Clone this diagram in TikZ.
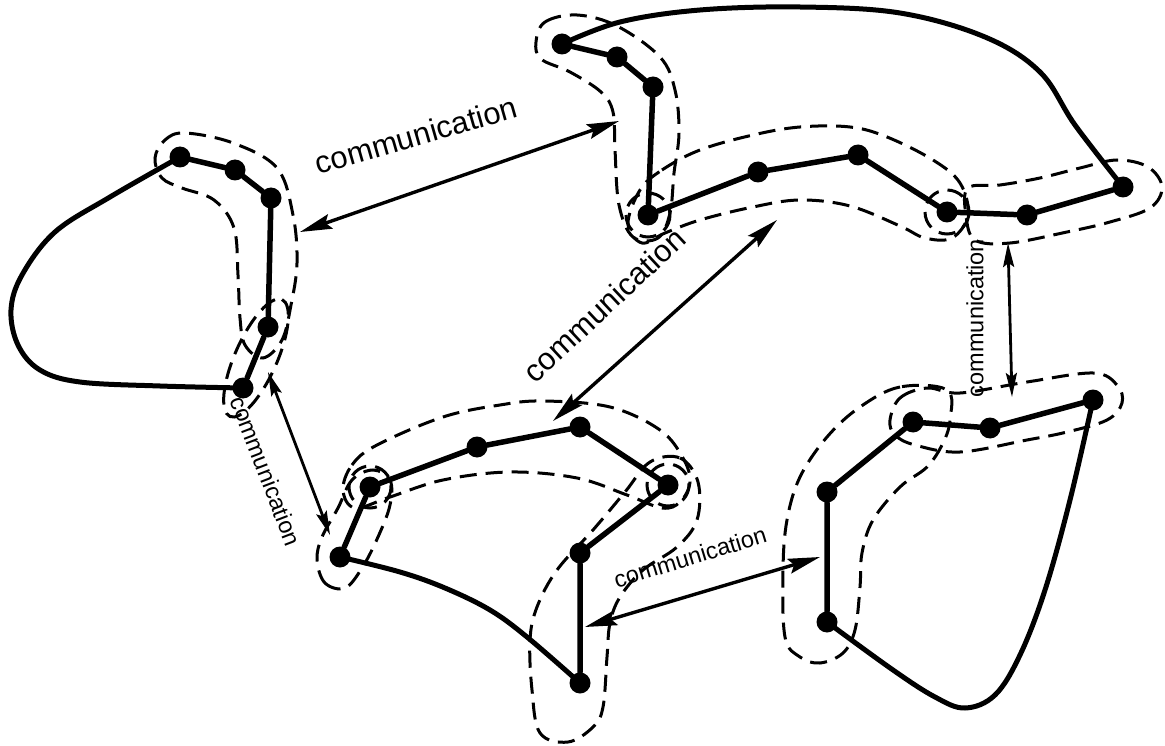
\documentclass[tikz,border=0pt]{standalone}
\usepackage{fontspec}
\setmainfont{Liberation Sans}
\usetikzlibrary{arrows.meta}
\begin{document}
\begin{tikzpicture}[x=1pt,y=-1pt,
  dot/.style={circle,fill=black,inner sep=0pt,minimum size=21pt},
  chainline/.style={line width=5.5pt,line join=round,line cap=round},
  outline/.style={line width=5pt,line cap=round,line join=round},
  zone/.style={line width=3pt,dash pattern=on 17pt off 9pt},
  comm/.style={line width=3.4pt,{Stealth[length=32pt,width=15pt,inset=5pt]}-{Stealth[length=32pt,width=15pt,inset=5pt]}},
  commsmall/.style={line width=2.8pt,{Stealth[length=24pt,width=11pt,inset=4pt]}-{Stealth[length=24pt,width=11pt,inset=4pt]}},
  lblbig/.style={inner sep=0pt,font=\fontsize{31}{31}\selectfont},
  lblsmall/.style={inner sep=0pt,font=\fontsize{23.5}{23.5}\selectfont}
]
\useasboundingbox (0,0) rectangle (1165,746);
\fill[white] (0,0) rectangle (1165,746);

% ---------- dots ----------
\node[dot] (A1) at (180,157) {};
\node[dot] (A2) at (235,170) {};
\node[dot] (A3) at (271,198) {};
\node[dot] (A4) at (268,327) {};
\node[dot] (A5) at (243,388) {};

\node[dot] (B1) at (562,44) {};
\node[dot] (B2) at (617,57) {};
\node[dot] (B3) at (653,87) {};
\node[dot] (B4) at (648,215) {};
\node[dot] (B5) at (758,172) {};
\node[dot] (B6) at (858,155) {};
\node[dot] (B7) at (947,212) {};
\node[dot] (B8) at (1027,215) {};
\node[dot] (B9) at (1123,187) {};

\node[dot] (C1) at (340,557) {};
\node[dot] (C2) at (370,487) {};
\node[dot] (C3) at (477,447) {};
\node[dot] (C4) at (580,427) {};
\node[dot] (C5) at (668,485) {};
\node[dot] (C6) at (580,553) {};
\node[dot] (C7) at (580,683) {};

\node[dot] (D1) at (913,422) {};
\node[dot] (D2) at (990,428) {};
\node[dot] (D3) at (1093,400) {};
\node[dot] (D4) at (827,492) {};
\node[dot] (D5) at (827,622) {};

% ---------- chains ----------
\draw[chainline] (A1) -- (A2) -- (A3) -- (A4) -- (A5);
\draw[chainline] (B1) -- (B2) -- (B3) -- (B4) -- (B5) -- (B6) -- (B7) -- (B8) -- (B9);
\draw[chainline] (C1) -- (C2) -- (C3) -- (C4) -- (C5) -- (C6) -- (C7);
\draw[chainline] (D5) -- (D4) -- (D1) -- (D2) -- (D3);

% ---------- closing curves ----------
\draw[outline] plot[smooth,tension=0.6] coordinates {(A1.center) (110,197) (55,232) (22,275) (11,310) (18,345) (40,370) (80,382) (160,386) (A5.center)};
\draw[outline] plot[smooth,tension=0.6] coordinates {(B1.center) (620,22) (700,10) (800,7) (900,13) (985,37) (1040,72) (1075,125) (B9.center)};
\draw[outline] plot[smooth,tension=0.6] coordinates {(C1.center) (400,572) (445,588) (490,610) (527,637) (C7.center)};
\draw[outline] plot[smooth,tension=0.6] coordinates {(D5.center) (893,670) (935,697) (965,708) (995,695) (1020,655) (1045,590) (1070,500) (D3.center)};

% ---------- dashed zones ----------
% left shape
\draw[zone] plot[smooth cycle,tension=0.6] coordinates {(155,158) (165,140) (185,133) (233,143) (277,168) (293,215) (297,263) (291,305) (282,340) (263,358) (245,345) (240,318) (238,275) (234,228) (214,200) (182,188) (162,178)};
\draw[zone,rotate around={66:(256,358)}] (256,358) ellipse [x radius=64, y radius=21];
% top shape
\draw[zone] plot[smooth cycle,tension=0.6] coordinates {(536,42) (545,22) (577,15) (617,26) (660,57) (675,90) (679,133) (674,173) (670,213) (658,238) (633,237) (619,205) (615,150) (613,112) (601,92) (570,72) (541,59)};
\draw[zone] (B4) circle[radius=22];
\draw[zone] plot[smooth cycle,tension=0.6] coordinates {(640,190) (662,170) (700,150) (753,135) (800,127) (850,127) (887,137) (933,160) (960,183) (968,215) (952,238) (925,238) (900,226) (850,206) (800,200) (753,207) (700,220) (665,233) (642,243) (628,224)};
\draw[zone] (B7) circle[radius=22];
\draw[zone] plot[smooth cycle,tension=0.6] coordinates {(968,188) (1000,185) (1040,178) (1080,168) (1117,160) (1148,167) (1162,187) (1150,208) (1110,222) (1067,232) (1010,243) (975,240) (966,215)};
% bottom-middle shape
\draw[zone] plot[smooth cycle,tension=0.6] coordinates {(343,490) (352,465) (377,445) (443,417) (500,405) (543,401) (610,407) (660,430) (683,458) (690,482) (680,502) (662,508) (627,495) (577,478) (510,472) (443,480) (390,497) (355,508)};
\draw[zone] (C2) circle[radius=21];
\draw[zone] (C5) circle[radius=21];
\draw[zone] plot[smooth cycle,tension=0.6] coordinates {(650,462) (680,458) (698,482) (697,520) (677,547) (643,570) (620,597) (610,623) (607,657) (603,707) (593,727) (568,742) (540,733) (532,690) (530,640) (537,607) (557,570) (593,530) (625,492)};
\draw[zone] plot[smooth cycle,tension=0.6] coordinates {(317,560) (325,583) (345,588) (362,568) (378,537) (390,505) (390,480) (373,470) (352,480) (338,508) (322,537)};
% right-bottom shape
\draw[zone] plot[smooth cycle,tension=0.6] coordinates {(890,420) (900,398) (927,388) (960,393) (1027,382) (1093,373) (1117,385) (1122,403) (1107,420) (1067,432) (1027,440) (960,452) (915,445) (895,435)};
\draw[zone] plot[smooth cycle,tension=0.6] coordinates {(947,390) (900,387) (860,407) (827,437) (800,477) (787,520) (783,570) (785,637) (800,657) (820,663) (843,653) (855,630) (860,587) (862,553) (873,520) (900,487) (927,467) (943,443) (950,420)};

% ---------- communication arrows ----------
\coordinate (p1a) at (300,232);
\coordinate (p1b) at (619,121);
\coordinate (p2a) at (777,220);
\coordinate (p2b) at (553,421);
\coordinate (p3a) at (268,372);
\coordinate (p3b) at (330,535);
\coordinate (p4a) at (585,627);
\coordinate (p4b) at (820,557);
\coordinate (p5a) at (1008,243);
\coordinate (p5b) at (1012,397);
\draw[comm] (p1a) -- (p1b);
\draw[comm] (p2a) -- (p2b);
\draw[commsmall] (p3a) -- (p3b);
\draw[comm] (p4a) -- (p4b);
\draw[commsmall] (p5a) -- (p5b);

% ---------- labels ----------
\node[lblbig,rotate=16] (t1) at (416,135) {communication};
\node[lblbig,rotate=43] (t2) at (604,305) {communication};
\node[lblsmall,rotate=17] (t3) at (690,557) {communication};
\node[lblsmall,rotate=-69] (t4) at (266,471) {communication};
\node[lblsmall,rotate=90] (t5) at (975,318) {communication};
\end{tikzpicture}
\end{document}
